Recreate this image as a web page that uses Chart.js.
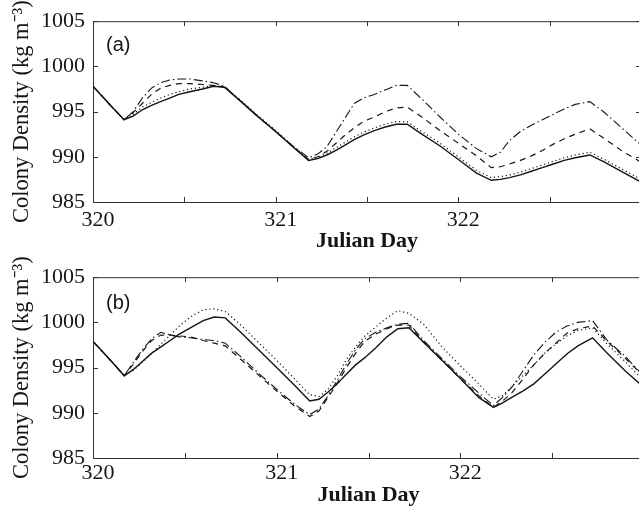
<!DOCTYPE html>
<html><head><meta charset="utf-8">
<script src="https://cdn.jsdelivr.net/npm/chart.js@4.4.0/dist/chart.umd.min.js"></script>
<style>
html,body{margin:0;padding:0;overflow:hidden;background:#fff;width:639px;height:511px;}
canvas.panel{position:absolute;left:0;}
</style></head><body>
<canvas id="ca" class="panel" width="646" height="256" style="top:0px;width:646px;height:256px"></canvas>
<canvas id="cb" class="panel" width="646" height="255" style="top:256px;width:646px;height:255px"></canvas>
<script>
// ---- data ----
const days = [320.0, 320.05, 320.1, 320.17, 320.22, 320.27, 320.32, 320.37, 320.42, 320.47, 320.53, 320.6, 320.66, 320.72, 320.8, 320.9, 321.0, 321.1, 321.18, 321.23, 321.28, 321.33, 321.38, 321.43, 321.48, 321.54, 321.6, 321.66, 321.72, 321.8, 321.9, 322.0, 322.1, 322.18, 322.23, 322.28, 322.34, 322.4, 322.46, 322.52, 322.58, 322.64, 322.72, 322.8, 322.9, 323.0];

const aSolid = [997.8, 996.7, 995.6, 994.1,
 994.5, 995.2, 995.7, 996.1, 996.5, 996.9, 997.2, 997.5, 997.8, 997.7,
 996.3, 994.5, 992.8, 991.0, 989.6,
 989.8, 990.2, 990.7, 991.3, 991.9, 992.4, 992.9, 993.3, 993.6, 993.6,
 992.5, 991.2, 989.7, 988.2, 987.4,
 987.5, 987.7, 988.0, 988.4, 988.8, 989.2, 989.6, 989.9, 990.2,
 989.4, 988.3, 987.2];
const aDotted = [997.8, 996.7, 995.6, 994.1,
 994.7, 995.5, 996.0, 996.5, 996.9, 997.2, 997.5, 997.7, 997.9, 997.7,
 996.4, 994.6, 992.9, 991.1, 989.7,
 989.9, 990.4, 991.0, 991.6, 992.2, 992.7, 993.2, 993.6, 993.9, 993.9,
 992.8, 991.5, 990.0, 988.5, 987.7,
 987.8, 988.0, 988.3, 988.7, 989.1, 989.5, 989.9, 990.2, 990.5,
 989.7, 988.6, 987.5];
const aDashed = [997.8, 996.7, 995.6, 994.1,
 994.9, 995.9, 996.9, 997.6, 997.9, 998.1, 998.1, 998.0, 997.9, 997.7,
 996.3, 994.5, 992.8, 991.0, 989.7,
 990.0, 990.6, 991.5, 992.4, 993.2, 993.9, 994.4, 995.0, 995.4, 995.5,
 994.4, 992.9, 991.5, 990.1, 988.8,
 988.9, 989.2, 989.6, 990.1, 990.7, 991.4, 992.0, 992.5, 993.1,
 992.0, 990.6, 989.4];
const aDashDot = [997.8, 996.7, 995.6, 994.1,
 995.0, 996.5, 997.6, 998.2, 998.5, 998.6, 998.6, 998.4, 998.2, 997.8,
 996.3, 994.5, 992.8, 991.1, 989.9,
 990.3, 991.1, 992.7, 994.3, 995.9, 996.5, 996.9, 997.4, 997.9, 997.9,
 996.4, 994.4, 992.5, 990.9, 990.0,
 990.5, 991.8, 992.8, 993.5, 994.1, 994.7, 995.3, 995.8, 996.1,
 994.9, 993.1, 991.3];

const bSolid = [997.9, 996.8, 995.7, 994.1,
 994.8, 995.7, 996.6, 997.3, 998.0, 998.7, 999.4, 1000.2, 1000.6, 1000.5,
 999.0, 997.0, 995.0, 993.0, 991.3,
 991.5, 992.3, 993.2, 994.3, 995.3, 996.1, 997.2, 998.4, 999.3, 999.4,
 997.8, 995.8, 993.8, 991.7, 990.6,
 991.1, 991.7, 992.4, 993.2, 994.3, 995.4, 996.5, 997.4, 998.3,
 996.6, 994.6, 992.8];
const bDotted = [997.9, 996.8, 995.7, 994.1,
 994.7, 995.6, 996.6, 997.6, 998.6, 999.6, 1000.6, 1001.4, 1001.5, 1001.2,
 999.8, 997.8, 995.8, 993.7, 992.0,
 991.8, 992.6, 994.1, 995.9, 997.3, 998.5, 999.5, 1000.5, 1001.3, 1001.0,
 999.8, 997.3, 995.2, 993.2, 991.5,
 991.9, 992.9, 994.1, 995.3, 996.6, 997.6, 998.5, 999.1, 999.4,
 997.6, 995.6, 993.5];
const bDashed = [997.9, 996.8, 995.7, 994.1,
 995.4, 996.8, 998.0, 998.6, 998.6, 998.5, 998.4, 998.0, 997.7, 997.4,
 996.0, 994.2, 992.4, 990.7, 989.6,
 990.2, 991.7, 993.3, 995.0, 996.6, 997.9, 998.7, 999.3, 999.7, 999.7,
 997.8, 995.8, 993.8, 991.9, 990.6,
 991.3, 992.2, 993.7, 995.3, 996.6, 997.7, 998.8, 999.3, 999.6,
 997.9, 996.0, 994.0];
const bDashDot = [997.9, 996.8, 995.7, 994.1,
 995.6, 997.0, 998.2, 998.9, 998.6, 998.4, 998.3, 998.1, 998.0, 997.7,
 996.3, 994.4, 992.6, 990.9, 989.8,
 990.4, 991.9, 993.6, 995.4, 997.0, 998.2, 998.9, 999.4, 999.8, 999.9,
 998.0, 996.0, 994.0, 992.2, 990.8,
 991.7, 992.8, 994.6, 996.4, 997.8, 998.9, 999.6, 1000.0, 1000.2,
 998.0, 996.2, 994.0];

const xLabelDays = [320, 321, 322];
const xTickLabels = ['320', '321', '322'];
const yTickValues = [985, 990, 995, 1000, 1005];
const yTickLabels = ['985', '990', '995', '1000', '1005'];
const panelLabels = ['(a)', '(b)'];
const xTitle = 'Julian Day';
const yTitle = 'Colony Density (kg m\u207B\u00B3)';

// ---- styling ----
const INK = '#151515';
const SERIF = '"Liberation Serif", "Times New Roman", serif';
const styles = {
  solid:   {borderDash: [], borderWidth: 1.4},
  dotted:  {borderDash: [1.2, 2.8], borderWidth: 1.2},
  dashed:  {borderDash: [6, 5], borderWidth: 1.2},
  dashdot: {borderDash: [9, 3, 1.5, 3], borderWidth: 1.1}
};

function series(vals, st) {
  return Object.assign({
    data: days.map((d, i) => ({x: d, y: vals[i]})),
    borderColor: INK, pointRadius: 0, tension: 0, fill: false
  }, styles[st]);
}

const framePlugin = {
  id: 'frame',
  afterDraw(chart, args, opts) {
    const {ctx, chartArea: a} = chart;
    const x = chart.scales.x, y = chart.scales.y;
    ctx.save();
    ctx.strokeStyle = '#333'; ctx.lineWidth = 1;
    ctx.beginPath();
    ctx.moveTo(a.left, a.top + 0.5); ctx.lineTo(a.right, a.top + 0.5);
    ctx.moveTo(a.right - 0.5, a.top); ctx.lineTo(a.right - 0.5, a.bottom);
    x.ticks.forEach(t => {
      const px = Math.round(x.getPixelForValue(t.value)) + 0.5;
      ctx.moveTo(px, a.bottom); ctx.lineTo(px, a.bottom - 5);
      ctx.moveTo(px, a.top); ctx.lineTo(px, a.top + 5);
    });
    y.ticks.forEach(t => {
      const py = Math.round(y.getPixelForValue(t.value)) + 0.5;
      ctx.moveTo(a.left, py); ctx.lineTo(a.left + 5, py);
      ctx.moveTo(a.right, py); ctx.lineTo(a.right - 5, py);
    });
    ctx.stroke();
    ctx.fillStyle = INK;
    ctx.font = '20px "Liberation Sans", Arial, sans-serif';
    ctx.textBaseline = 'middle'; ctx.textAlign = 'left';
    ctx.fillText(opts.label, a.left + 13, a.top + opts.labelDy);
    ctx.restore();
  }
};

function makeChart(id, vals, label, axisH, tickPad, titlePad, labelDy) {
  return new Chart(document.getElementById(id), {
    type: 'line',
    data: {datasets: [
      series(vals[0], 'solid'), series(vals[1], 'dotted'),
      series(vals[2], 'dashed'), series(vals[3], 'dashdot')
    ]},
    plugins: [framePlugin],
    options: {
      responsive: false, animation: false, devicePixelRatio: 1,
      layout: {padding: {top: 19, left: 0, right: 0, bottom: 0}},
      plugins: {legend: {display: false}, tooltip: {enabled: false},
        frame: {label: label, labelDy: labelDy}},
      scales: {
        x: {
          type: 'linear', position: 'bottom', min: 320, max: 323,
          afterFit: s => { s.height = axisH; },
          grid: {display: true, drawOnChartArea: false, drawTicks: false},
          border: {display: true, color: '#333', width: 1},
          ticks: {
            stepSize: 0.5, autoSkip: false, maxRotation: 0, padding: tickPad, labelOffset: 5,
            color: INK, font: {family: SERIF, size: 22},
            callback: v => { const i = xLabelDays.indexOf(v); return i >= 0 ? xTickLabels[i] : ''; }
          },
          title: {display: true, text: xTitle, color: INK, padding: {top: 0, bottom: titlePad},
            font: {family: SERIF, size: 22, weight: 'bold'}}
        },
        y: {
          type: 'linear', position: 'left', min: 985, max: 1005,
          afterFit: s => { s.width = 93; },
          afterBuildTicks: s => { s.ticks = yTickValues.map(v => ({value: v})); },
          grid: {display: true, drawOnChartArea: false, drawTicks: false},
          border: {display: true, color: '#333', width: 1},
          ticks: {
            padding: 8, color: INK,
            font: {family: SERIF, size: 22},
            callback: v => { const i = yTickValues.indexOf(v); return i >= 0 ? yTickLabels[i] : ''; }
          },
          title: {display: true, text: yTitle, color: INK, padding: {top: 9, bottom: 0},
            font: {family: SERIF, size: 22.5}}
        }
      }
    }
  });
}

makeChart('ca', [aSolid, aDotted, aDashed, aDashDot], panelLabels[0], 54, 5, 1, 24);
makeChart('cb', [bSolid, bDotted, bDashed, bDashDot], panelLabels[1], 53, 2, 2, 26);
</script>
</body></html>
